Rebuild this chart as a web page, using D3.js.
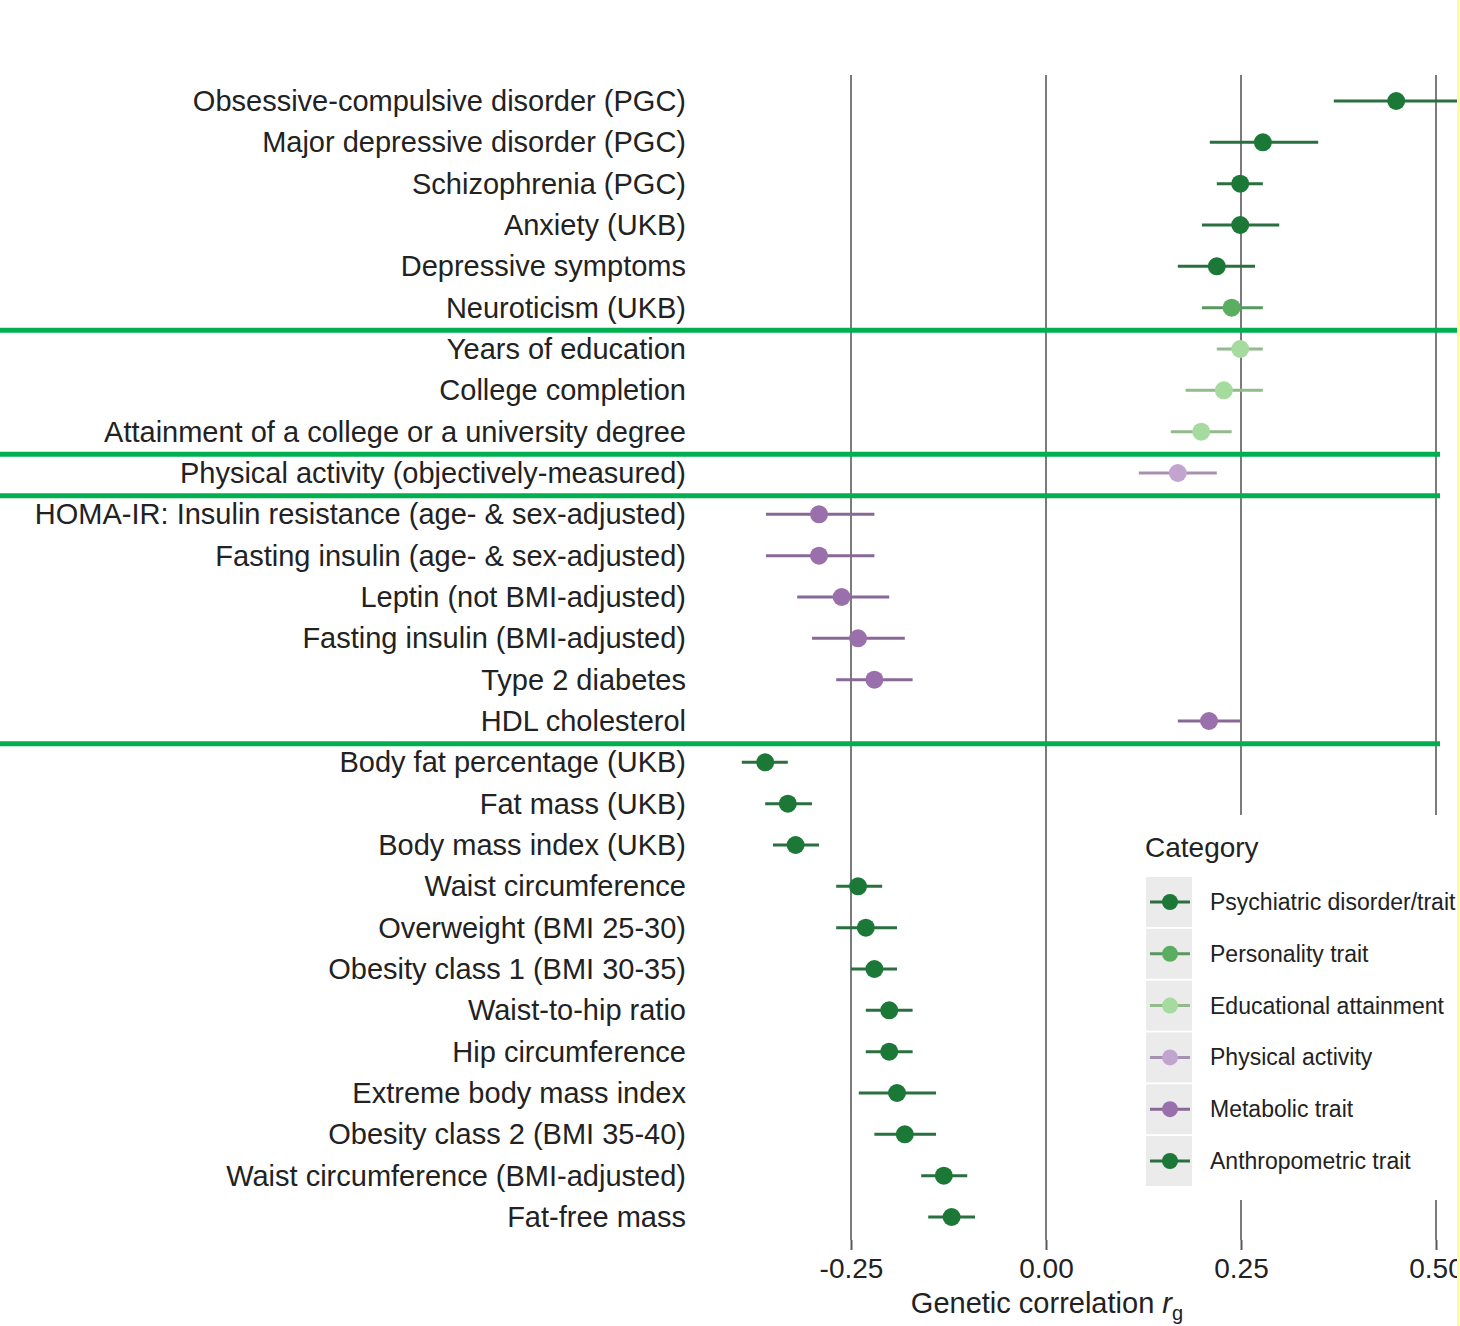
<!DOCTYPE html>
<html>
<head>
<meta charset="utf-8">
<script src="https://cdn.jsdelivr.net/npm/d3@7"></script>
<style>
  body { margin: 0; background: #fff; }
  svg { display: block; font-family: "Liberation Sans", Arial, Helvetica, sans-serif; }
</style>
</head>
<body>
<div id="chart"></div>
<script>
// traits, top to bottom
var traits = [
    "Obsessive-compulsive disorder (PGC)",
    "Major depressive disorder (PGC)",
    "Schizophrenia (PGC)",
    "Anxiety (UKB)",
    "Depressive symptoms",
    "Neuroticism (UKB)",
    "Years of education",
    "College completion",
    "Attainment of a college or a university degree",
    "Physical activity (objectively-measured)",
    "HOMA-IR: Insulin resistance (age- & sex-adjusted)",
    "Fasting insulin (age- & sex-adjusted)",
    "Leptin (not BMI-adjusted)",
    "Fasting insulin (BMI-adjusted)",
    "Type 2 diabetes",
    "HDL cholesterol",
    "Body fat percentage (UKB)",
    "Fat mass (UKB)",
    "Body mass index (UKB)",
    "Waist circumference",
    "Overweight (BMI 25-30)",
    "Obesity class 1 (BMI 30-35)",
    "Waist-to-hip ratio",
    "Hip circumference",
    "Extreme body mass index",
    "Obesity class 2 (BMI 35-40)",
    "Waist circumference (BMI-adjusted)",
    "Fat-free mass"
];
var trait_category = [0,0,0,0,0,1,2,2,2,3,4,4,4,4,4,4,5,5,5,5,5,5,5,5,5,5,5,5];
var rg    = [0.449, 0.278, 0.249, 0.249, 0.219, 0.238, 0.249, 0.228, 0.199, 0.169,
             -0.291, -0.291, -0.262, -0.241, -0.220, 0.209,
             -0.360, -0.331, -0.321, -0.241, -0.231, -0.220, -0.201, -0.201, -0.191, -0.181, -0.131, -0.121];
var ci_lo = [0.369, 0.210, 0.219, 0.200, 0.169, 0.200, 0.219, 0.179, 0.160, 0.119,
             -0.359, -0.359, -0.319, -0.300, -0.269, 0.169,
             -0.390, -0.360, -0.350, -0.269, -0.269, -0.250, -0.231, -0.231, -0.240, -0.220, -0.160, -0.151];
var ci_hi = [0.560, 0.349, 0.278, 0.299, 0.268, 0.278, 0.278, 0.278, 0.238, 0.219,
             -0.220, -0.220, -0.201, -0.181, -0.171, 0.249,
             -0.331, -0.300, -0.291, -0.210, -0.191, -0.191, -0.171, -0.171, -0.141, -0.141, -0.101, -0.091];

var categories = ["Psychiatric disorder/trait", "Personality trait", "Educational attainment",
                  "Physical activity", "Metabolic trait", "Anthropometric trait"];
var category_colors = ["#1b7837", "#5aae61", "#a6dba0", "#c2a5cf", "#9970ab", "#1b7837"];
var x_ticks = [-0.25, 0, 0.25, 0.5];
// rows after which a group separator is drawn
var separator_after = [5, 8, 9, 15];

var width = 1460, height = 1326;

var svg = d3.select("#chart").append("svg")
    .attr("width", width)
    .attr("height", height);

var x = d3.scaleLinear().domain([-0.25, 0.5]).range([851, 1436]);
var y = d3.scalePoint().domain(traits).range([101, 1217]);
var color = d3.scaleOrdinal().domain(d3.range(categories.length)).range(category_colors);

function bar_color(i){
    return d3.interpolateRgb(color(i), "#555")(0.25);
}

var rows = traits.map(function(t, i){
    return {trait: t, cat: trait_category[i], rg: rg[i], lo: ci_lo[i], hi: ci_hi[i]};
});

// grid lines
svg.append("g").selectAll("line")
    .data(x_ticks).enter().append("line")
    .attr("x1", function(d){ return x(d); })
    .attr("x2", function(d){ return x(d); })
    .attr("y1", 75).attr("y2", 1240)
    .attr("stroke", "#5a5a5a")
    .attr("stroke-width", 1.6);

// x axis
var xAxis = svg.append("g")
    .attr("transform", "translate(0,1240)")
    .call(d3.axisBottom(x).tickValues(x_ticks).tickSize(10).tickPadding(8)
        .tickFormat(function(d){ return d3.format(".2f")(d).replace("\u2212", "-"); }));
xAxis.select(".domain").remove();
xAxis.selectAll(".tick line").attr("stroke", "#5a5a5a").attr("stroke-width", 2);
xAxis.selectAll(".tick text").attr("font-size", 28).attr("fill", "#222")
    .attr("font-family", "Liberation Sans, Arial, sans-serif");

// axis title
var title = svg.append("text")
    .attr("x", 1047).attr("y", 1313)
    .attr("text-anchor", "middle")
    .attr("font-size", 29)
    .attr("fill", "#222");
title.append("tspan").text("Genetic correlation ");
title.append("tspan").attr("font-style", "italic").text("r");
title.append("tspan").attr("font-size", 20).attr("dy", 7).text("g");

// trait labels
svg.append("g").selectAll("text")
    .data(rows).enter().append("text")
    .attr("x", 686)
    .attr("y", function(d){ return y(d.trait); })
    .attr("dy", "0.35em")
    .attr("text-anchor", "end")
    .attr("font-size", 29)
    .attr("fill", "#222")
    .text(function(d){ return d.trait; });

// error bars
svg.append("g").selectAll("line")
    .data(rows).enter().append("line")
    .attr("x1", function(d){ return x(d.lo); })
    .attr("x2", function(d){ return Math.min(x(d.hi), width); })
    .attr("y1", function(d){ return y(d.trait); })
    .attr("y2", function(d){ return y(d.trait); })
    .attr("stroke", function(d){ return bar_color(d.cat); })
    .attr("stroke-width", 3);

// points
svg.append("g").selectAll("circle")
    .data(rows).enter().append("circle")
    .attr("cx", function(d){ return x(d.rg); })
    .attr("cy", function(d){ return y(d.trait); })
    .attr("r", 9)
    .attr("fill", function(d){ return color(d.cat); });

// legend
var legend = svg.append("g").attr("transform", "translate(1136,815)");
legend.append("rect")
    .attr("x", 0).attr("y", 0)
    .attr("width", 330).attr("height", 385)
    .attr("fill", "#fff");
legend.append("text")
    .attr("x", 9).attr("y", 42)
    .attr("font-size", 28)
    .attr("fill", "#222")
    .text("Category");
var keys = legend.selectAll(".key")
    .data(categories).enter().append("g")
    .attr("class", "key")
    .attr("transform", function(d, i){ return "translate(10," + (62 + i * 51.8) + ")"; });
keys.append("rect")
    .attr("width", 46).attr("height", 50)
    .attr("fill", "#ebebeb");
keys.append("line")
    .attr("x1", 4).attr("x2", 44)
    .attr("y1", 25).attr("y2", 25)
    .attr("stroke", function(d, i){ return bar_color(i); })
    .attr("stroke-width", 3);
keys.append("circle")
    .attr("cx", 24).attr("cy", 25).attr("r", 8)
    .attr("fill", function(d, i){ return color(i); });
keys.append("text")
    .attr("x", 64).attr("y", 25)
    .attr("dy", "0.35em")
    .attr("font-size", 23)
    .attr("fill", "#222")
    .text(function(d){ return d; });

// group separators
svg.append("g").selectAll("line")
    .data(separator_after).enter().append("line")
    .attr("x1", 0)
    .attr("x2", function(d, i){ return i === 0 ? width : 1440; })
    .attr("y1", function(d){ return (y(traits[d]) + y(traits[d + 1])) / 2 + 2; })
    .attr("y2", function(d){ return (y(traits[d]) + y(traits[d + 1])) / 2 + 2; })
    .attr("stroke", "#00b050")
    .attr("stroke-width", 5);

// right edge strip
svg.append("rect")
    .attr("x", 1457).attr("y", 0)
    .attr("width", 3).attr("height", height)
    .attr("fill", "#fff9a8");
</script>
</body>
</html>
